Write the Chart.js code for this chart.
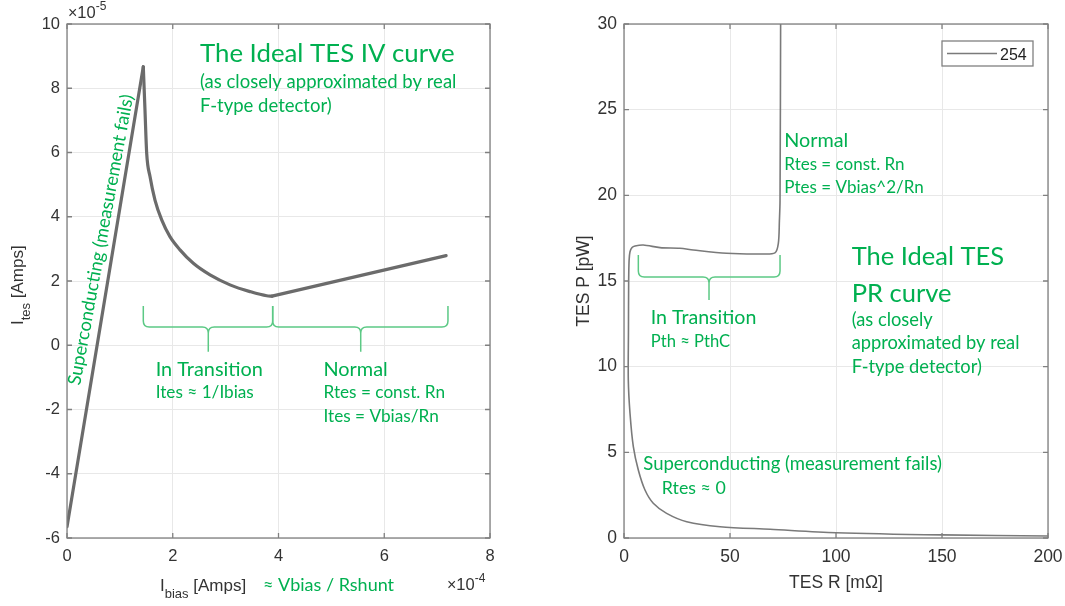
<!DOCTYPE html>
<html>
<head>
<meta charset="utf-8">
<script src="https://cdn.jsdelivr.net/npm/chart.js@4.4.1/dist/chart.umd.min.js"></script>
<style>
  html, body { margin: 0; padding: 0; background: #fff; }
  #wrap { position: relative; width: 1065px; height: 606px; }
  canvas { position: absolute; top: 0; }
</style>
</head>
<body>
<div id="wrap">
  <canvas id="ivChart" width="530" height="606" style="left:0"></canvas>
  <canvas id="prChart" width="505" height="606" style="left:560px"></canvas>
</div>
<script>
// IV curve: x = Ibias in 1e-4 A, y = Ites in 1e-5 A
const ibias = [0, 1.443, 1.475, 1.507, 1.570, 1.664, 1.791, 1.947, 2.137, 2.389, 2.705, 3.083, 3.461, 3.777, 3.877, 7.17];
const ites  = [-5.65, 8.67, 7.32, 5.98, 5.25, 4.52, 3.90, 3.38, 2.97, 2.55, 2.19, 1.88, 1.67, 1.54, 1.53, 2.79];
const ivXTicks = [0, 2, 4, 6, 8];
const ivYTicks = [-6, -4, -2, 0, 2, 4, 6, 8, 10];
// index of the peak and of the minimum (where the curve changes regime)
const ivPeak = 1, ivMin = 14;

// PR curve: x = TES R in mOhm, y = TES P in pW (in sweep order)
const tesR = [200, 150, 100, 68.9, 45.3, 29.6, 20.1, 13.8, 9.9, 6.75, 4.4, 2.83, 2.03, 2.1, 2.2, 2.4, 2.83, 3.8, 5.2, 9.1, 17, 26.4, 32.7, 48.4, 64.2, 71.2, 72.8, 73.3, 73.6, 73.9];
const tesP = [0.12, 0.18, 0.31, 0.51, 0.66, 0.95, 1.44, 2.03, 2.80, 3.97, 5.33, 7.28, 9.22, 12.0, 15.0, 16.2, 16.71, 16.95, 17.04, 17.1, 16.95, 16.91, 16.81, 16.62, 16.58, 16.64, 17.2, 18.5, 19.7, 31];
const prXTicks = [0, 50, 100, 150, 200];
const prYTicks = [0, 5, 10, 15, 20, 25, 30];
const prLabel = '254';

const GREEN = '#00b050';
const BRACE = '#5cc985';
const AXIS = '#333333';
const SANS = '"Liberation Sans", Arial, sans-serif';
const NOTE = 'Lato, "Open Sans", sans-serif';

// green notes, placed in data units
const ivNotes = [
  { t: 'The Ideal TES IV curve', x: 2.515, y: 8.81, size: 25.8 },
  { t: '(as closely approximated by real', x: 2.515, y: 8.0, size: 18.5 },
  { t: 'F-type detector)', x: 2.515, y: 7.27, size: 18.5 },
  { t: 'In Transition', x: 1.677, y: -0.947, size: 19.9 },
  { t: 'Ites \u2248 1/Ibias', x: 1.677, y: -1.65, size: 17.2 },
  { t: 'Normal', x: 4.85, y: -0.947, size: 19.9 },
  { t: 'Rtes = const. Rn', x: 4.85, y: -1.65, size: 17.2 },
  { t: 'Ites = Vbias/Rn', x: 4.85, y: -2.38, size: 17.2 },
  { t: 'Superconducting (measurement fails)', x: 0.246, y: -1.27, size: 18.3, rot: -79.6 }
];
const ivBraces = [
  { xl: 1.443, xr: 3.89, xt: 2.672, top: 1.22, mid: 0.568, tip: -0.2 },
  { xl: 3.89, xr: 7.205, xt: 5.555, top: 1.22, mid: 0.568, tip: -0.2 }
];
const prNotes = [
  { t: 'Normal', x: 75.6, y: 22.84, size: 19.8 },
  { t: 'Rtes = const. Rn', x: 75.6, y: 21.48, size: 17 },
  { t: 'Ptes = Vbias^2/Rn', x: 75.6, y: 20.12, size: 17 },
  { t: 'In Transition', x: 12.6, y: 12.47, size: 19.6 },
  { t: 'Pth \u2248 PthC', x: 12.6, y: 11.13, size: 16.6 },
  { t: 'The Ideal TES', x: 107.4, y: 15.93, size: 25.5 },
  { t: 'PR curve', x: 107.4, y: 13.79, size: 25.5 },
  { t: '(as closely', x: 107.4, y: 12.37, size: 18.3 },
  { t: 'approximated by real', x: 107.4, y: 11.01, size: 18.3 },
  { t: 'F-type detector)', x: 107.4, y: 9.65, size: 18.3 },
  { t: 'Superconducting (measurement fails)', x: 9.1, y: 3.97, size: 18.5 },
  { t: 'Rtes \u2248 0', x: 17.8, y: 2.57, size: 17.8 }
];
const prBraces = [
  { xl: 6.76, xr: 73.6, xt: 40.1, top: 16.52, mid: 15.23, tip: 13.89 }
];

function pieces(ctx, list, x, y, rot) {
  ctx.save();
  ctx.translate(x, y);
  if (rot) ctx.rotate(rot * Math.PI / 180);
  let total = 0;
  list.forEach(p => { ctx.font = p.size + 'px ' + (p.family || SANS); total += ctx.measureText(p.t).width; });
  let cx = list.center ? -total / 2 : 0;
  list.forEach(p => {
    ctx.font = p.size + 'px ' + (p.family || SANS);
    ctx.fillStyle = p.color || AXIS;
    ctx.textBaseline = 'alphabetic';
    ctx.textAlign = 'left';
    ctx.fillText(p.t, cx, p.dy || 0);
    cx += ctx.measureText(p.t).width;
  });
  ctx.restore();
}

function drawNotes(chart, notes, braces) {
  const ctx = chart.ctx, sx = chart.scales.x, sy = chart.scales.y;
  notes.forEach(n => {
    pieces(ctx, [{ t: n.t, size: n.size, color: GREEN, family: NOTE }],
      sx.getPixelForValue(n.x), sy.getPixelForValue(n.y), n.rot);
  });
  ctx.save();
  ctx.strokeStyle = BRACE;
  ctx.lineWidth = 1.5;
  braces.forEach(b => {
    const xl = sx.getPixelForValue(b.xl), xr = sx.getPixelForValue(b.xr), xt = sx.getPixelForValue(b.xt);
    const yT = sy.getPixelForValue(b.top), yM = sy.getPixelForValue(b.mid), yP = sy.getPixelForValue(b.tip);
    const r = 6;
    ctx.beginPath();
    ctx.moveTo(xl, yT);
    ctx.lineTo(xl, yM - r);
    ctx.quadraticCurveTo(xl, yM, xl + r, yM);
    ctx.lineTo(xt - r, yM);
    ctx.quadraticCurveTo(xt, yM, xt, yM + r);
    ctx.lineTo(xt, yP);
    ctx.moveTo(xt, yM + r);
    ctx.quadraticCurveTo(xt, yM, xt + r, yM);
    ctx.lineTo(xr - r, yM);
    ctx.quadraticCurveTo(xr, yM, xr, yM - r);
    ctx.lineTo(xr, yT);
    ctx.stroke();
  });
  ctx.restore();
}

// matlab style box with inward ticks on all four sides
function drawFrame(chart) {
  const ctx = chart.ctx, a = chart.chartArea;
  ctx.save();
  ctx.strokeStyle = '#808080';
  ctx.lineWidth = 1.3;
  ctx.strokeRect(a.left, a.top, a.right - a.left, a.bottom - a.top);
  ctx.beginPath();
  chart.scales.x.ticks.forEach(t => {
    const px = chart.scales.x.getPixelForValue(t.value);
    ctx.moveTo(px, a.bottom); ctx.lineTo(px, a.bottom - 5);
    ctx.moveTo(px, a.top); ctx.lineTo(px, a.top + 5);
  });
  chart.scales.y.ticks.forEach(t => {
    const py = chart.scales.y.getPixelForValue(t.value);
    ctx.moveTo(a.left, py); ctx.lineTo(a.left + 5, py);
    ctx.moveTo(a.right, py); ctx.lineTo(a.right - 5, py);
  });
  ctx.stroke();
  ctx.restore();
}

function scaleOpts(min, max, list, fit) {
  return {
    type: 'linear', min: min, max: max,
    afterBuildTicks: s => { s.ticks = list.map(v => ({ value: v })); },
    afterFit: s => {
      fit(s);
      // keep label overhang from shrinking the plot box
      s.paddingLeft = s.paddingRight = s.paddingTop = s.paddingBottom = 0;
    },
    grid: { color: '#e8e8e8', lineWidth: 1, drawTicks: false },
    border: { display: false },
    ticks: { color: AXIS, font: { family: SANS, size: 16.5 }, maxRotation: 0 }
  };
}

// pieces of the IV curve: straight rise, smooth 1/I decay, straight normal branch
function ivPart(from, to, mode) {
  const pts = [];
  for (let i = from; i <= to; i++) pts.push({ x: ibias[i], y: ites[i] });
  return {
    label: 'IV',
    data: pts,
    borderColor: '#6b6b6b',
    borderWidth: 3.2,
    borderCapStyle: 'round',
    borderJoinStyle: 'round',
    pointRadius: 0,
    tension: 0,
    cubicInterpolationMode: mode
  };
}

// left chart: IV curve
const ivX = scaleOpts(0, 8, ivXTicks, s => { s.height = 68; });
ivX.ticks.padding = 9;
const ivY = scaleOpts(-6, 10, ivYTicks, s => { s.width = 67; });
ivY.ticks.padding = 7;

new Chart(document.getElementById('ivChart'), {
  type: 'line',
  data: {
    datasets: [
      ivPart(0, ivPeak, 'default'),
      ivPart(ivPeak, ivMin, 'monotone'),
      ivPart(ivMin, ibias.length - 1, 'default')
    ]
  },
  options: {
    responsive: false,
    animation: false,
    layout: { padding: { left: 0, top: 24, right: 40, bottom: 0 } },
    scales: { x: ivX, y: ivY },
    plugins: { legend: { display: false }, tooltip: { enabled: false } }
  },
  plugins: [{
    id: 'ivExtras',
    afterDatasetsDraw(chart) { drawFrame(chart); },
    afterDraw(chart) {
      const ctx = chart.ctx, a = chart.chartArea;
      drawNotes(chart, ivNotes, ivBraces);
      pieces(ctx, [{ t: '\u00d7', size: 16 }, { t: '10', size: 16.5 }, { t: '-5', size: 12, dy: -8 }], a.left + 1, 18);
      pieces(ctx, [{ t: '\u00d7', size: 16 }, { t: '10', size: 16.5 }, { t: '-4', size: 12, dy: -8 }], 447, 590);
      pieces(ctx, [{ t: 'I', size: 17 }, { t: 'bias', size: 13, dy: 7 }, { t: ' [Amps]', size: 17 }], 160, 591);
      pieces(ctx, [{ t: '\u2248 Vbias / Rshunt', size: 18, color: GREEN, family: NOTE }], 263, 591);
      pieces(ctx, [{ t: 'I', size: 17 }, { t: 'tes', size: 13, dy: 7 }, { t: ' [Amps]', size: 17 }], 23, 325, -90);
    }
  }]
});

// right chart: PR curve
const prX = scaleOpts(0, 200, prXTicks, s => { s.height = 68; });
prX.ticks.padding = 9;
prX.ticks.font.size = 17.5;
const prY = scaleOpts(0, 30, prYTicks, s => { s.width = 64; });
prY.ticks.padding = 7;
prY.ticks.font.size = 17.5;

new Chart(document.getElementById('prChart'), {
  type: 'line',
  data: {
    datasets: [{
      label: prLabel,
      data: tesR.map((v, i) => ({ x: v, y: tesP[i] })),
      borderColor: '#7a7a7a',
      borderWidth: 1.6,
      pointRadius: 0,
      tension: 0.3
    }]
  },
  options: {
    responsive: false,
    animation: false,
    layout: { padding: { left: 0, top: 24, right: 17, bottom: 0 } },
    scales: { x: prX, y: prY },
    plugins: { legend: { display: false }, tooltip: { enabled: false } }
  },
  plugins: [{
    id: 'prExtras',
    afterDatasetsDraw(chart) { drawFrame(chart); },
    afterDraw(chart) {
      const ctx = chart.ctx, a = chart.chartArea;
      drawNotes(chart, prNotes, prBraces);
      const xt = [{ t: 'TES R [m\u03a9]', size: 17.5 }];
      xt.center = true;
      pieces(ctx, xt, (a.left + a.right) / 2, 588);
      const yt = [{ t: 'TES P [pW]', size: 17.5 }];
      yt.center = true;
      pieces(ctx, yt, 29, (a.top + a.bottom) / 2, -90);
      // legend box
      const ds = chart.data.datasets[0];
      const bx = a.right - 106, by = a.top + 17, bw = 91, bh = 25;
      ctx.save();
      ctx.fillStyle = '#fff';
      ctx.fillRect(bx, by, bw, bh);
      ctx.strokeStyle = '#808080';
      ctx.lineWidth = 1.3;
      ctx.strokeRect(bx, by, bw, bh);
      ctx.strokeStyle = ds.borderColor;
      ctx.lineWidth = 1.6;
      ctx.beginPath();
      ctx.moveTo(bx + 5, by + 12.5);
      ctx.lineTo(bx + 55, by + 12.5);
      ctx.stroke();
      ctx.restore();
      pieces(ctx, [{ t: ds.label, size: 16, color: '#222' }], bx + 58, by + 19);
    }
  }]
});
</script>
</body>
</html>
